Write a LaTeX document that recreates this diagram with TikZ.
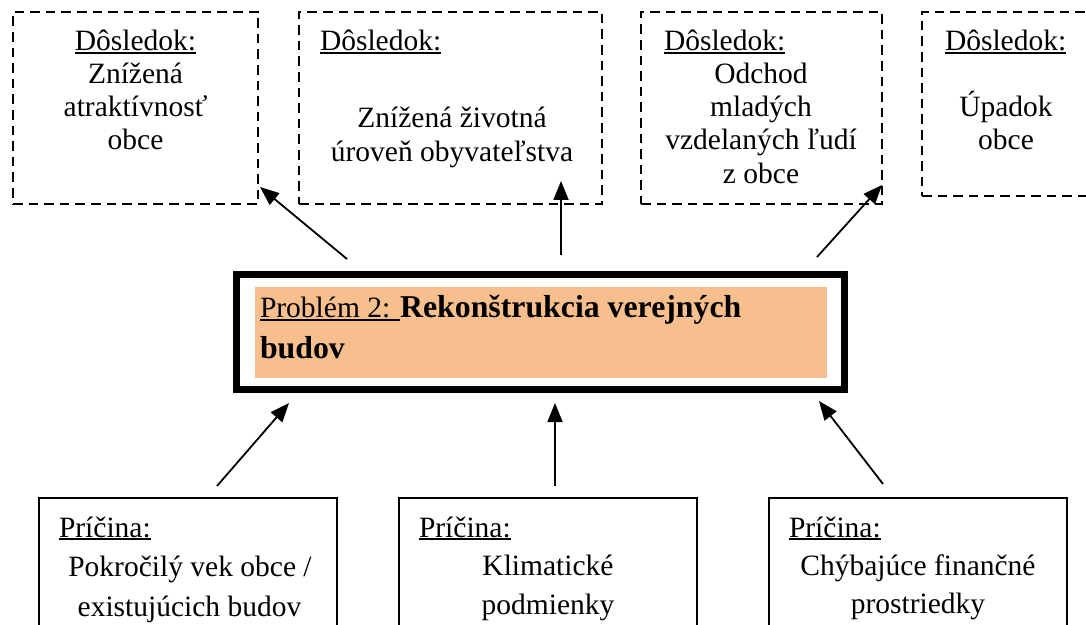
\documentclass[tikz,border=0pt]{standalone}
\usepackage{fontspec}
\setmainfont{Liberation Serif}
\usetikzlibrary{arrows.meta}
\newsavebox\ulbox
\newcommand\myul[1]{\sbox\ulbox{#1}\rlap{\rule[-1.4pt]{\wd\ulbox}{0.8pt}}\usebox\ulbox}
\newcommand\bodyfont{\fontsize{14.75pt}{16.5pt}\selectfont}
\newcommand\bigbold{\fontsize{15.9pt}{18pt}\selectfont\bfseries}
\definecolor{peach}{RGB}{248,191,142}
\tikzset{
  dbox/.style={draw, line width=1.4pt, dash pattern=on 4.8pt off 3pt, inner sep=0, outer sep=0},
  sbox/.style={draw, line width=0.8pt, inner sep=0, outer sep=0},
  txt/.style={inner sep=0, outer sep=0, anchor=base, font=\bodyfont},
  txtl/.style={txt, anchor=base west},
  arr/.style={line width=0.9pt, -{Triangle[length=9.5pt,width=7.5pt]}}
}
\begin{document}
\begin{tikzpicture}[x=0.5pt,y=-0.5pt]
\useasboundingbox (0,0) rectangle (1086,625);
\clip (0,0) rectangle (1086,625);
% consequence boxes
\node[dbox, minimum width=122.5pt, minimum height=96pt] (d1) at (135.5,108) {};
\node[dbox, minimum width=151.5pt, minimum height=96pt] (d2) at (450.5,108) {};
\node[dbox, minimum width=120.5pt, minimum height=96pt] (d3) at (761.5,108) {};
\node[dbox, minimum width=100pt, minimum height=92pt] (d4) at (1022,104) {};
% consequence texts
\node[txt] (d1h) at (135.5,51) {\myul{Dôsledok:}};
\node[txt] (d1a) at (135.5,84) {Znížená};
\node[txt] (d1b) at (135.5,117) {atraktívnosť};
\node[txt] (d1c) at (135.5,150) {obce};
\node[txtl] (d2h) at (320,51) {\myul{Dôsledok:}};
\node[txt] (d2a) at (452,128) {Znížená životná};
\node[txt] (d2b) at (452,162) {úroveň obyvateľstva};
\node[txtl] (d3h) at (664,51) {\myul{Dôsledok:}};
\node[txt] (d3a) at (761,84) {Odchod};
\node[txt] (d3b) at (761,117) {mladých};
\node[txt] (d3c) at (761,150) {vzdelaných ľudí};
\node[txt] (d3d) at (761,184) {z obce};
\node[txtl] (d4h) at (945,51) {\myul{Dôsledok:}};
\node[txt] (d4a) at (1006,117) {Úpadok};
\node[txt] (d4b) at (1006,150) {obce};
% problem box
\node[draw, line width=3.5pt, inner sep=0, outer sep=0, minimum width=304pt, minimum height=57.5pt] (prob) at (540.5,332) {};
\node[fill=peach, inner sep=0, outer sep=0, minimum width=286pt, minimum height=45.5pt] (probfill) at (541,332.5) {};
\node[txtl] (pa) at (260,318) {\myul{Problém 2: }{\bigbold Rekonštrukcia verejných}};
\node[txtl] (pb) at (260,358) {\bigbold budov};
% cause boxes
\node[sbox, minimum width=149pt, minimum height=90pt] (c1) at (188,588) {};
\node[sbox, minimum width=149pt, minimum height=90pt] (c2) at (548,588) {};
\node[sbox, minimum width=149pt, minimum height=90pt] (c3) at (918,588) {};
\node[txtl] (c1h) at (59,537) {\myul{Príčina:}};
\node[txt] (c1a) at (190,576) {Pokročilý vek obce /};
\node[txt] (c1b) at (189.5,616) {existujúcich budov};
\node[txtl] (c2h) at (419,537) {\myul{Príčina:}};
\node[txt] (c2a) at (548,575) {Klimatické};
\node[txt] (c2b) at (548,614) {podmienky};
\node[txtl] (c3h) at (789,537) {\myul{Príčina:}};
\node[txt] (c3a) at (918,575) {Chýbajúce finančné};
\node[txt] (c3b) at (918,613) {prostriedky};
% arrow end points
\coordinate (u1s) at (347,259);
\coordinate (u1e) at (260,187);
\coordinate (u2s) at (561,255);
\coordinate (u2e) at (561,181);
\coordinate (u3s) at (817,257);
\coordinate (u3e) at (882,185);
\coordinate (l1s) at (217,486);
\coordinate (l1e) at (289,403);
\coordinate (l2s) at (555,486);
\coordinate (l2e) at (555,403);
\coordinate (l3s) at (883,484);
\coordinate (l3e) at (819,401);
\draw[arr] (u1s) -- (u1e);
\draw[arr] (u2s) -- (u2e);
\draw[arr] (u3s) -- (u3e);
\draw[arr] (l1s) -- (l1e);
\draw[arr] (l2s) -- (l2e);
\draw[arr] (l3s) -- (l3e);
\end{tikzpicture}
\end{document}
